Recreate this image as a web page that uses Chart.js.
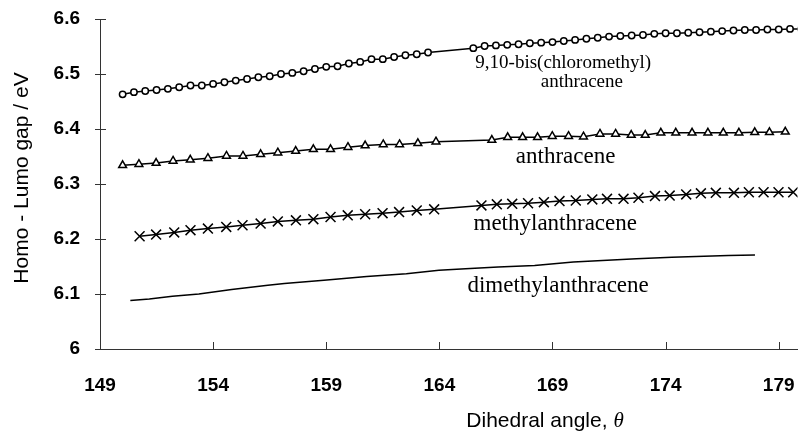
<!DOCTYPE html>
<html>
<head>
<meta charset="utf-8">
<script src="https://cdn.jsdelivr.net/npm/chart.js@4/dist/chart.umd.min.js"></script>
<style>
  body { margin: 0; background: #fff; }
  canvas { display: block; }
</style>
</head>
<body>
<canvas id="gap-chart" width="806" height="431"></canvas>
<script>
// Axis ticks
const xTicks = [149, 154, 159, 164, 169, 174, 179];
const yTicks = [6, 6.1, 6.2, 6.3, 6.4, 6.5, 6.6];

// 9,10-bis(chloromethyl)anthracene (circles)
const bisAngles = [150, 150.5, 151, 151.5, 152, 152.5, 153, 153.5, 154, 154.5,
  155, 155.5, 156, 156.5, 157, 157.5, 158, 158.5, 159, 159.5,
  160, 160.5, 161, 161.5, 162, 162.5, 163, 163.5, 165.5, 166,
  166.5, 167, 167.5, 168, 168.5, 169, 169.5, 170, 170.5, 171,
  171.5, 172, 172.5, 173, 173.5, 174, 174.5, 175, 175.5, 176,
  176.5, 177, 177.5, 178, 178.5, 179, 179.5, 180];
const bisGap = [6.463, 6.467, 6.469, 6.471, 6.473, 6.476, 6.479, 6.479, 6.482, 6.485,
  6.488, 6.491, 6.494, 6.496, 6.500, 6.502, 6.505, 6.509, 6.513, 6.514,
  6.519, 6.522, 6.527, 6.527, 6.531, 6.534, 6.536, 6.539, 6.547, 6.551,
  6.552, 6.553, 6.554, 6.556, 6.557, 6.558, 6.560, 6.562, 6.564, 6.566,
  6.568, 6.569, 6.570, 6.571, 6.573, 6.574, 6.574, 6.575, 6.576, 6.577,
  6.578, 6.579, 6.580, 6.580, 6.581, 6.581, 6.582, 6.582];

// anthracene (triangles)
const anthAngles = [150.0, 150.72, 151.48, 152.23, 152.99, 153.77, 154.59, 155.32, 156.10, 156.86,
  157.65, 158.43, 159.19, 159.96, 160.72, 161.52, 162.24, 163.05, 163.85, 166.32,
  167.02, 167.68, 168.34, 168.99, 169.71, 170.37, 171.10, 171.79, 172.48, 173.10,
  173.79, 174.45, 175.17, 175.87, 176.55, 177.24, 177.94, 178.59, 179.29];
const anthGap = [6.334, 6.336, 6.338, 6.342, 6.344, 6.347, 6.351, 6.351, 6.354, 6.357,
  6.360, 6.363, 6.363, 6.367, 6.370, 6.372, 6.372, 6.374, 6.377, 6.380,
  6.385, 6.385, 6.385, 6.387, 6.387, 6.386, 6.391, 6.391, 6.389, 6.389,
  6.393, 6.393, 6.393, 6.393, 6.393, 6.393, 6.394, 6.394, 6.395];

// methylanthracene (crosses)
const methylAngles = [150.75, 151.48, 152.28, 153.00, 153.77, 154.58, 155.30, 156.10, 156.86, 157.66,
  158.43, 159.19, 159.95, 160.72, 161.49, 162.22, 163.00, 163.77, 165.86, 166.54,
  167.22, 167.92, 168.62, 169.31, 170.03, 170.76, 171.41, 172.14, 172.80, 173.53,
  174.18, 174.91, 175.56, 176.22, 177.02, 177.68, 178.33, 178.99, 179.64];
const methylGap = [6.205, 6.208, 6.212, 6.216, 6.219, 6.222, 6.225, 6.228, 6.232, 6.234,
  6.236, 6.240, 6.243, 6.245, 6.247, 6.249, 6.252, 6.254, 6.261, 6.263,
  6.264, 6.265, 6.267, 6.269, 6.270, 6.272, 6.273, 6.273, 6.275, 6.278,
  6.279, 6.281, 6.283, 6.284, 6.284, 6.285, 6.285, 6.285, 6.285];

// dimethylanthracene (plain line)
const dimethylAngles = [150.34, 151.18, 152.20, 153.37, 154.82, 156.42, 157.15, 158.90, 160.79, 162.54,
  163.98, 165.16, 166.60, 168.21, 169.92, 172.71, 174.28, 176.77, 177.95];
const dimethylGap = [6.088, 6.091, 6.096, 6.100, 6.108, 6.116, 6.119, 6.125, 6.132, 6.137,
  6.143, 6.146, 6.149, 6.152, 6.158, 6.164, 6.167, 6.170, 6.171];

// Curve labels, placed in data coordinates (left edge, baseline)
const curveLabels = [
  { text: '9,10-bis(chloromethyl)', x: 165.59, y: 6.511, size: 19 },
  { text: 'anthracene', x: 168.48, y: 6.476, size: 19 },
  { text: 'anthracene', x: 167.38, y: 6.338, size: 23 },
  { text: 'methylanthracene', x: 165.51, y: 6.216, size: 23 },
  { text: 'dimethylanthracene', x: 165.24, y: 6.103, size: 23 }
];

const yTitle = 'Homo - Lumo gap / eV';
const xTitle = 'Dihedral angle, ';

function toPoints(xs, ys) {
  return xs.map((v, i) => ({ x: v, y: ys[i] }));
}

// Inward tick marks, curve labels and axis titles
const overlay = {
  id: 'overlay',
  afterDraw(chart) {
    const { ctx, chartArea } = chart;
    const xs = chart.scales.x;
    const ys = chart.scales.y;
    ctx.save();
    ctx.strokeStyle = '#333';
    ctx.lineWidth = 1;
    xTicks.forEach(v => {
      const px = Math.round(xs.getPixelForValue(v)) + 0.5;
      ctx.beginPath();
      ctx.moveTo(px, chartArea.bottom);
      ctx.lineTo(px, chartArea.bottom - 7);
      ctx.stroke();
    });
    yTicks.forEach(v => {
      const py = Math.round(ys.getPixelForValue(v)) + 0.5;
      ctx.beginPath();
      ctx.moveTo(chartArea.left - 5, py);
      ctx.lineTo(chartArea.left + 6, py);
      ctx.stroke();
    });

    ctx.fillStyle = '#000';
    ctx.textAlign = 'left';
    ctx.textBaseline = 'alphabetic';
    curveLabels.forEach(l => {
      ctx.font = l.size + 'px "Liberation Serif", "Times New Roman", serif';
      ctx.fillText(l.text, xs.getPixelForValue(l.x), ys.getPixelForValue(l.y));
    });

    // y axis title
    ctx.font = '21px "Liberation Sans", Arial, sans-serif';
    ctx.save();
    ctx.translate(22, 178);
    ctx.rotate(-Math.PI / 2);
    ctx.textAlign = 'center';
    ctx.textBaseline = 'middle';
    ctx.fillText(yTitle, 0, 0);
    ctx.restore();

    // x axis title with italic theta
    const w1 = ctx.measureText(xTitle).width;
    ctx.font = 'italic 21px "Liberation Serif", "Times New Roman", serif';
    const w2 = ctx.measureText('\u03B8').width;
    const startX = 545 - (w1 + w2) / 2;
    ctx.font = '21px "Liberation Sans", Arial, sans-serif';
    ctx.textAlign = 'left';
    ctx.fillText(xTitle, startX, 427);
    ctx.font = 'italic 21px "Liberation Serif", "Times New Roman", serif';
    ctx.fillText('\u03B8', startX + w1, 427);
    ctx.restore();
  }
};

const common = {
  showLine: true,
  borderColor: '#000',
  borderWidth: 1.5,
  tension: 0,
  fill: false
};

new Chart(document.getElementById('gap-chart'), {
  type: 'scatter',
  data: {
    datasets: [
      Object.assign({}, common, {
        label: '9,10-bis(chloromethyl)anthracene',
        data: toPoints(bisAngles, bisGap),
        pointStyle: 'circle',
        pointRadius: 3.2,
        pointBorderWidth: 1.5,
        pointBorderColor: '#000',
        pointBackgroundColor: '#fff'
      }),
      Object.assign({}, common, {
        label: 'anthracene',
        data: toPoints(anthAngles, anthGap),
        pointStyle: 'triangle',
        pointRadius: 4.5,
        pointBorderWidth: 1.5,
        pointBorderColor: '#000',
        pointBackgroundColor: '#fff'
      }),
      Object.assign({}, common, {
        label: 'methylanthracene',
        data: toPoints(methylAngles, methylGap),
        pointStyle: 'crossRot',
        pointRadius: 7,
        pointBorderWidth: 1.5,
        pointBorderColor: '#000'
      }),
      Object.assign({}, common, {
        label: 'dimethylanthracene',
        data: toPoints(dimethylAngles, dimethylGap),
        pointRadius: 0
      })
    ]
  },
  options: {
    responsive: false,
    animation: false,
    events: [],
    layout: { padding: { top: 19, left: 0, right: 0, bottom: 0 } },
    plugins: {
      legend: { display: false },
      tooltip: { enabled: false }
    },
    scales: {
      x: {
        type: 'linear',
        min: 149,
        max: 179.83,
        afterBuildTicks: scale => { scale.ticks = xTicks.map(v => ({ value: v })); },
        afterFit: scale => {
          scale.height = 82;
          scale.paddingLeft = 0;
          scale.paddingRight = 0;
        },
        grid: { display: false, drawTicks: false },
        border: { display: true, color: '#333', width: 1 },
        ticks: {
          padding: 25,
          color: '#000',
          font: { family: '"Liberation Sans", Arial, sans-serif', size: 19, weight: 'bold' },
          callback: v => String(v)
        }
      },
      y: {
        type: 'linear',
        min: 6,
        max: 6.6,
        afterBuildTicks: scale => { scale.ticks = yTicks.map(v => ({ value: v })); },
        afterFit: scale => {
          scale.width = 100;
          scale.paddingTop = 0;
          scale.paddingBottom = 0;
        },
        grid: { display: false, drawTicks: false },
        border: { display: true, color: '#333', width: 1 },
        ticks: {
          padding: 20,
          color: '#000',
          font: { family: '"Liberation Sans", Arial, sans-serif', size: 19, weight: 'bold' },
          callback: v => String(Math.round(v * 10) / 10)
        }
      }
    }
  },
  plugins: [overlay]
});
</script>
</body>
</html>
